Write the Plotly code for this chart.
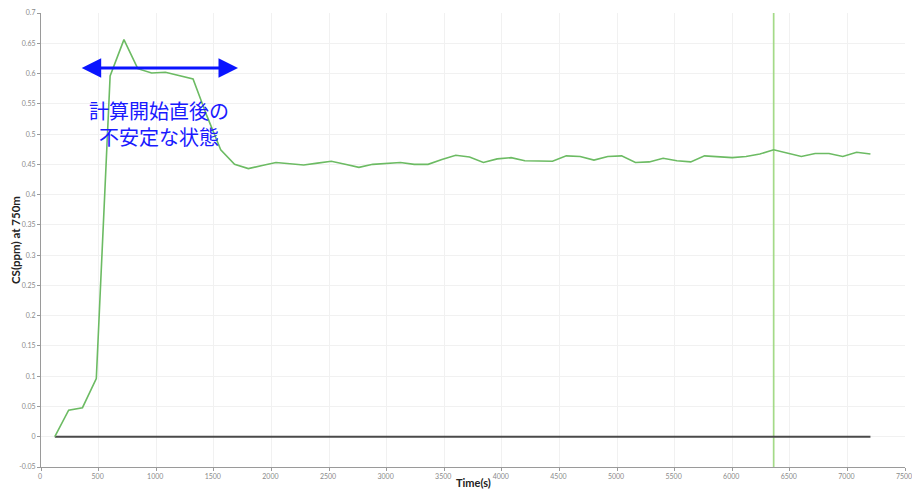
import plotly.graph_objects as go

# Data
time_s = [120, 240, 360, 480, 600, 720, 840, 960, 1080, 1200, 1320, 1440, 1560, 1680, 1800,
          1920, 2040, 2160, 2280, 2400, 2520, 2640, 2760, 2880, 3000, 3120, 3240, 3360, 3480,
          3600, 3720, 3840, 3960, 4080, 4200, 4320, 4440, 4560, 4680, 4800, 4920, 5040, 5160,
          5280, 5400, 5520, 5640, 5760, 5880, 6000, 6120, 6240, 6360, 6480, 6600, 6720, 6840,
          6960, 7080, 7200]
cs_ppm = [0.0, 0.044, 0.048, 0.096, 0.596, 0.656, 0.608, 0.601, 0.602, 0.596, 0.591, 0.530,
          0.474, 0.450, 0.443, 0.448, 0.453, 0.451, 0.449, 0.452, 0.455, 0.450, 0.445, 0.450,
          0.452, 0.453, 0.450, 0.450, 0.458, 0.465, 0.462, 0.453, 0.459, 0.461, 0.456, 0.455,
          0.455, 0.464, 0.463, 0.457, 0.463, 0.464, 0.453, 0.454, 0.460, 0.456, 0.454, 0.464,
          0.463, 0.461, 0.463, 0.467, 0.474, 0.468, 0.463, 0.468, 0.468, 0.463, 0.470, 0.467]
baseline = [0.0 for _ in time_s]
cursor_time = 6360
unstable_range = [340, 1710]
unstable_level = 0.609
x_ticks = list(range(0, 7501, 500))
y_ticks = [round(-0.05 + 0.05 * i, 2) for i in range(16)]
y_tick_text = ["{:g}".format(v) for v in y_ticks]
annotation_text = "計算開始直後の<br>不安定な状態"

fig = go.Figure()
fig.add_trace(go.Scatter(x=[cursor_time, cursor_time], y=[-0.05, 0.7], mode="lines",
                         line=dict(color="#a4da88", width=1.7), hoverinfo="skip"))
fig.add_trace(go.Scatter(x=time_s, y=baseline, mode="lines",
                         line=dict(color="#4a4a4a", width=2.2)))
fig.add_trace(go.Scatter(x=time_s, y=cs_ppm, mode="lines",
                         line=dict(color="#6cbb63", width=1.6)))

axis_common = dict(showgrid=True, gridcolor="#f1f1f1", gridwidth=1, zeroline=False,
                   showline=True, linecolor="#9a9a9a", linewidth=1, ticks="outside",
                   ticklen=3, tickcolor="#9a9a9a", automargin=False,
                   ticklabeloverflow="allow",
                   tickfont=dict(family="Lato", size=7, color="#8a8a8a"))

fig.update_layout(
    width=912, height=489,
    margin=dict(l=41, r=7, t=13, b=22),
    plot_bgcolor="white", paper_bgcolor="white",
    showlegend=False,
    xaxis=dict(range=[0, 7500], tickvals=x_ticks, ticklabelshift=-1, **axis_common),
    yaxis=dict(range=[-0.05, 0.7], tickvals=y_ticks, ticktext=y_tick_text, **axis_common),
)

# Double-headed arrow
fig.add_annotation(x=unstable_range[1], y=unstable_level, ax=unstable_range[0], ay=unstable_level,
                   xref="x", yref="y", axref="x", ayref="y", text="", showarrow=True,
                   arrowhead=2, startarrowhead=2, arrowside="end+start",
                   arrowwidth=3, arrowsize=1.3, startarrowsize=1.3, arrowcolor="#0a14ff")
fig.add_annotation(x=1025, y=0.518, xref="x", yref="y", text=annotation_text, showarrow=False,
                   font=dict(family="Noto Sans CJK JP", size=20, color="#1a1aff"),
                   align="center")

# Axis titles
fig.add_annotation(x=0.5, y=0, xref="paper", yref="paper", yshift=-15, text="<b>Time(s)</b>",
                   showarrow=False, font=dict(family="Lato", size=11, color="#222222"),
                   yanchor="middle")
fig.add_annotation(x=0, y=0.5, xref="paper", yref="paper", xshift=-26, text="<b>CS(ppm) at 750m</b>",
                   showarrow=False, textangle=-90,
                   font=dict(family="Lato", size=11.5, color="#222222"), xanchor="center")

# Remove the default page margin so the figure fills the window exactly
fig.write_html("out.html", config={"displayModeBar": False},
               post_script="document.body.style.margin='0';")
